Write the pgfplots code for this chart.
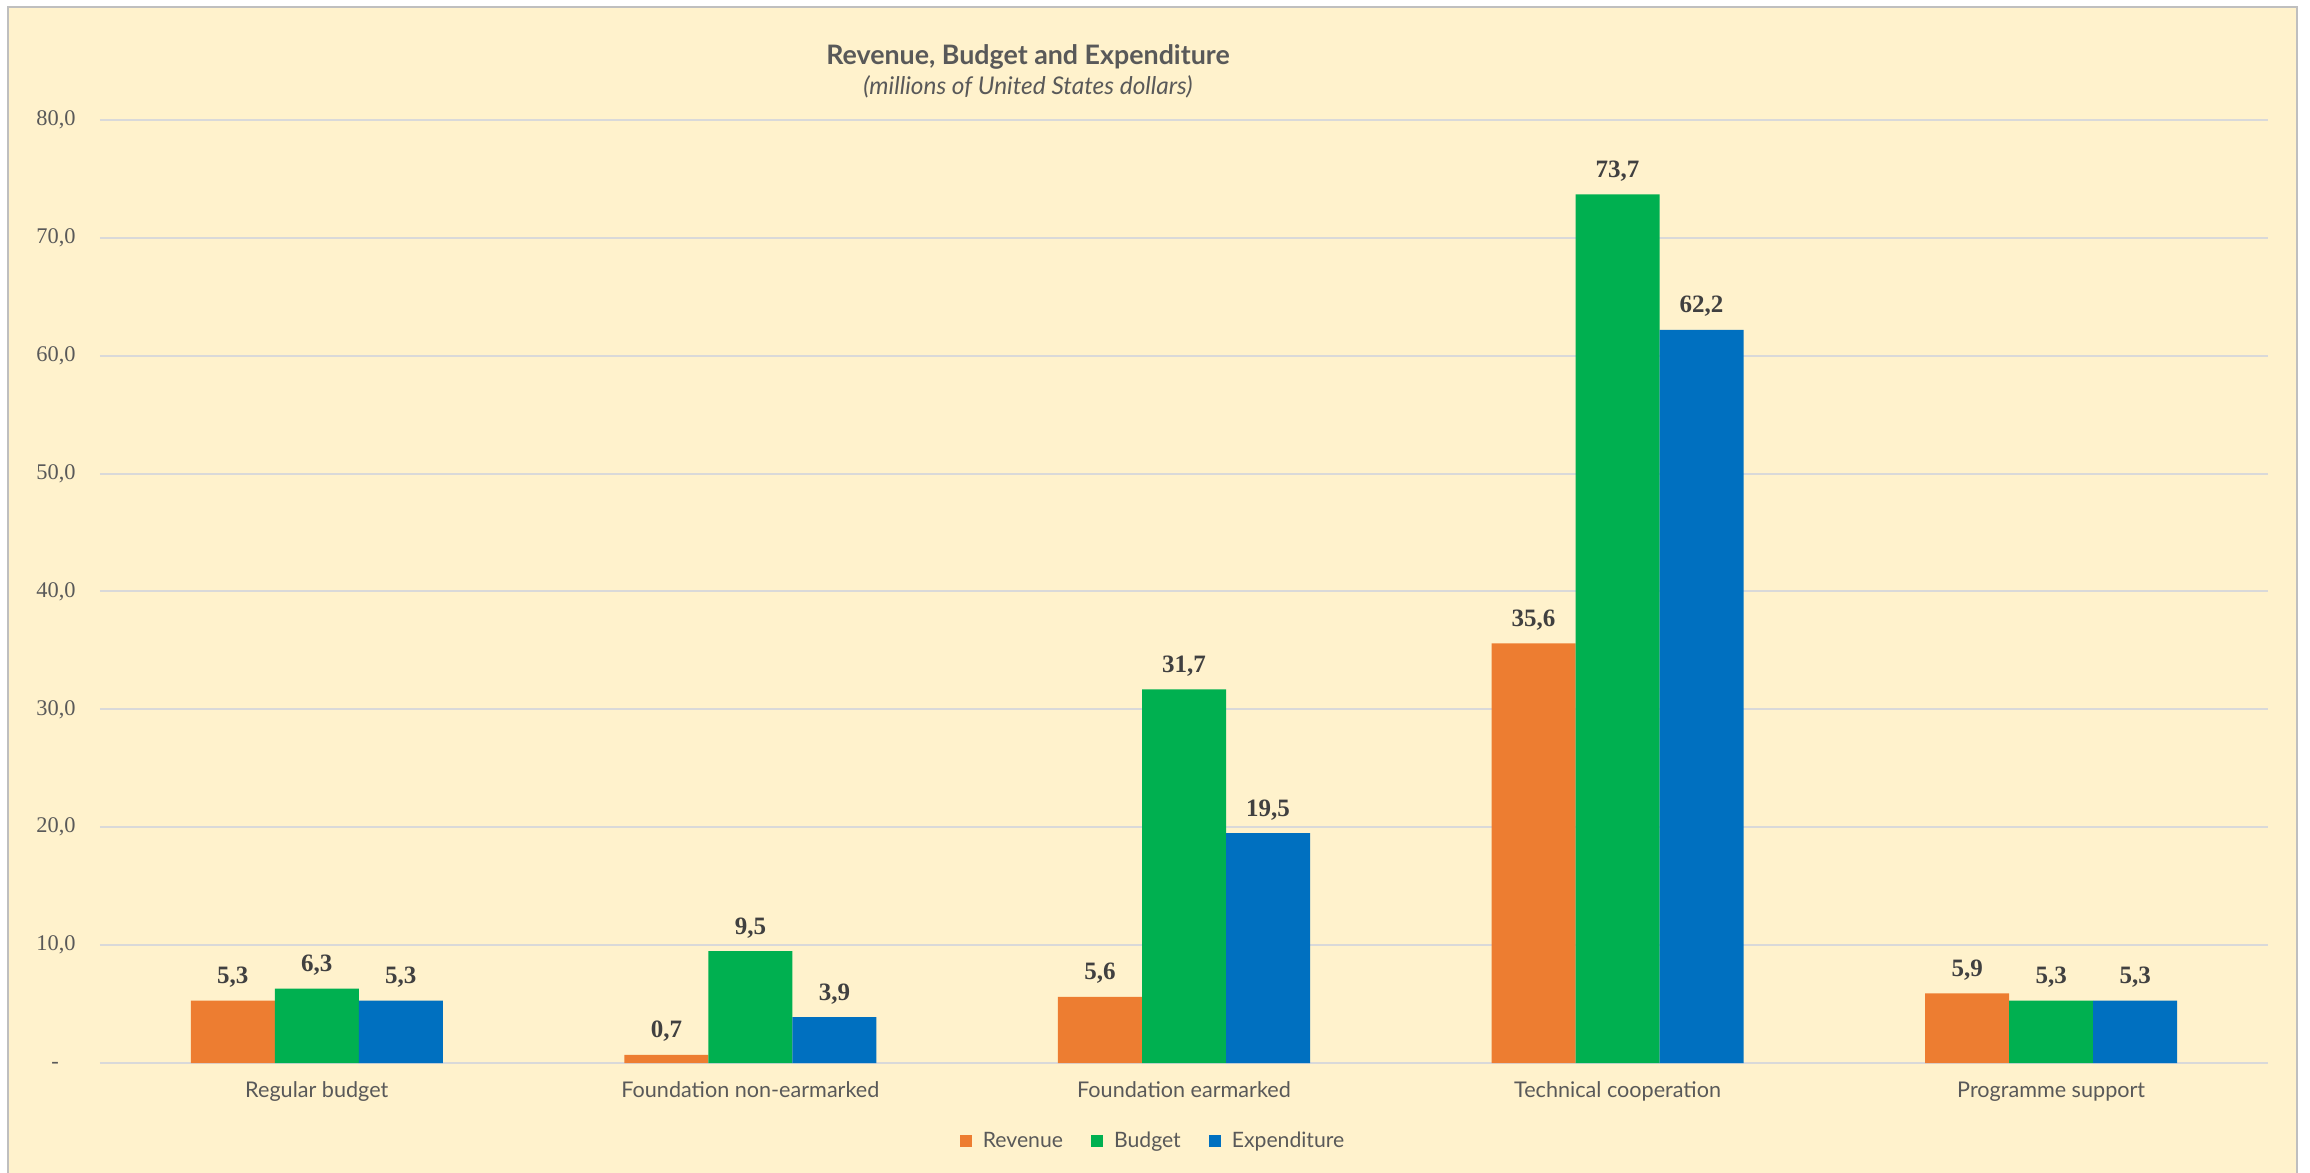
\documentclass[border=0pt]{standalone}
\usepackage{pgfplots}
\pgfplotsset{compat=1.18}
\usepackage{fontspec}
\setmainfont{Liberation Serif}
\newfontfamily\sansf{Lato}

\definecolor{bg}{HTML}{FFF2CC}
\definecolor{frame}{HTML}{BFBFBF}
\definecolor{gridc}{HTML}{D9D9D9}
\definecolor{tc}{HTML}{595959}
\definecolor{lab}{HTML}{404040}
\definecolor{rev}{HTML}{ED7D31}
\definecolor{bud}{HTML}{00B050}
\definecolor{exp}{HTML}{0070C0}

\begin{document}
\begin{tikzpicture}
% chart area (1px = 0.5pt, axis corner at px 100,1063)
\fill[bg, draw=frame, line width=1pt] (-46pt,-60pt) rectangle (1098.5pt,528pt);
\begin{axis}[
    scale only axis,
    width=1084pt, height=471.5pt,
    at={(0,0)}, anchor=south west,
    ybar=0pt, bar width=42pt,
    xmin=-0.5, xmax=4.5, ymin=0, ymax=80,
    enlargelimits=false,
    xtick={0,...,4},
    xticklabels={Regular budget, Foundation non-earmarked, Foundation earmarked, Technical cooperation, Programme support},
    ytick={0,10,...,80},
    yticklabels={{-\phantom{,0}},{10,0},{20,0},{30,0},{40,0},{50,0},{60,0},{70,0},{80,0}},
    major tick length=0pt,
    axis line style={draw=none},
    ymajorgrids,
    grid style={line width=1pt, gridc},
    xticklabel style={font=\sansf\fontsize{10.8}{13}\selectfont, text=tc, anchor=base, inner sep=0pt, yshift=-17pt},
    yticklabel style={font=\fontsize{11.2}{13}\selectfont, text=tc, anchor=east, inner sep=0pt, xshift=-12pt},
    nodes near coords,
    every node near coord/.append style={font=\bfseries\fontsize{12.5}{14}\selectfont, text=lab, anchor=base, inner sep=0pt, yshift=8.5pt},
    /pgf/number format/.cd, use comma, fixed, fixed zerofill, precision=1, assume math mode=true,
    /pgfplots/.cd,
    legend columns=3,
    legend image code/.code={\fill[#1] (0pt,-3pt) rectangle (6pt,3pt);},
    legend style={draw=none, fill=none, at={(0.4862,-0.0827)}, anchor=center,
      font=\sansf\fontsize{10.6}{12}\selectfont, text=tc,
      /tikz/every odd column/.append style={column sep=3.5pt},
      /tikz/every even column/.append style={column sep=12pt}},
]
\addplot[fill=rev, draw=none] coordinates {(0,5.3) (1,0.7) (2,5.6) (3,35.6) (4,5.9)};
\addplot[fill=bud, draw=none] coordinates {(0,6.3) (1,9.5) (2,31.7) (3,73.7) (4,5.3)};
\addplot[fill=exp, draw=none] coordinates {(0,5.3) (1,3.9) (2,19.5) (3,62.2) (4,5.3)};
\legend{Revenue, Budget, Expenditure}
\end{axis}
\node[anchor=base, font=\sansf\bfseries\fontsize{13.4}{16}\selectfont, text=tc] at (464pt,499pt) {Revenue, Budget and Expenditure};
\node[anchor=base, font=\sansf\itshape\fontsize{12.2}{14}\selectfont, text=tc] at (464pt,484pt) {(millions of United States dollars)};
\pgfresetboundingbox
\path[use as bounding box] (-50pt,-54.5pt) rectangle (1105pt,531.5pt);
\end{tikzpicture}
\end{document}
